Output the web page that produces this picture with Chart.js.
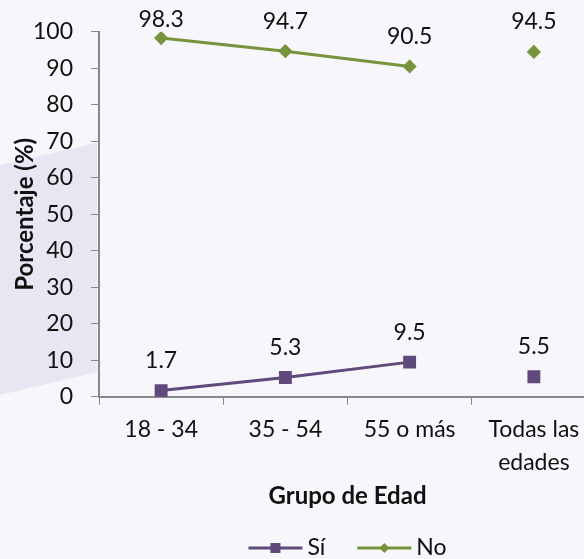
<!DOCTYPE html>
<html>
<head>
<meta charset="utf-8">
<script src="https://cdn.jsdelivr.net/npm/chart.js@4"></script>
<style>
  html, body { margin: 0; padding: 0; background: #f6f6fb; overflow: hidden; }
  #wrap { width: 606px; height: 559px; }
</style>
</head>
<body>
<div id="wrap"><canvas id="grafico"></canvas></div>
<script>
const categorias = ['18 - 34', '35 - 54', '55 o más', ['Todas las', 'edades']];
const valoresSi = [1.7, 5.3, 9.5, 5.5];
const valoresNo = [98.3, 94.7, 90.5, 94.5];
const ticksY = [0, 10, 20, 30, 40, 50, 60, 70, 80, 90, 100];

const corSi = '#604a7b';
const corNo = '#77933c';
const fonte = 'Lato, "Open Sans", sans-serif';

// fundo com a faixa clara a esquerda
const fundo = {
    id: 'fundo',
    beforeDraw(chart) {
        const ctx = chart.ctx;
        ctx.save();
        ctx.fillStyle = '#f6f6fb';
        ctx.fillRect(0, 0, chart.width, chart.height);
        ctx.fillStyle = '#e7e6f2';
        ctx.beginPath();
        ctx.moveTo(0, 165);
        ctx.lineTo(97, 143);
        ctx.lineTo(97, 372);
        ctx.lineTo(0, 395);
        ctx.closePath();
        ctx.fill();
        ctx.restore();
    }
};

// rotulos dos valores acima dos pontos
const rotulos = {
    id: 'rotulos',
    afterDatasetsDraw(chart) {
        const ctx = chart.ctx;
        ctx.save();
        ctx.font = '23px ' + fonte;
        ctx.fillStyle = '#111';
        ctx.textAlign = 'center';
        ctx.textBaseline = 'middle';
        chart.data.datasets.forEach((ds, i) => {
            chart.getDatasetMeta(i).data.forEach((p, j) => {
                let y = Math.max(p.y - 30, 20);
                ctx.fillText(ds.data[j].toFixed(1), p.x, y);
            });
        });
        ctx.restore();
    }
};

// legenda: linha com marcador no meio, centrada na area do grafico
const legenda = {
    id: 'legenda',
    afterDraw(chart) {
        const ctx = chart.ctx;
        const y = 548;
        const linha = 54, gapTexto = 5, gapItem = 32;
        ctx.save();
        ctx.font = '23px ' + fonte;
        ctx.textBaseline = 'middle';
        ctx.textAlign = 'left';
        const itens = chart.data.datasets;
        let total = 0;
        itens.forEach((ds, i) => {
            total += linha + gapTexto + ctx.measureText(ds.label).width;
            if (i < itens.length - 1) total += gapItem;
        });
        let x = (chart.chartArea.left + chart.chartArea.right) / 2 - total / 2;
        itens.forEach(ds => {
            ctx.strokeStyle = ds.borderColor;
            ctx.fillStyle = ds.borderColor;
            ctx.lineWidth = 3;
            ctx.beginPath();
            ctx.moveTo(x, y); ctx.lineTo(x + linha, y);
            ctx.stroke();
            const cx = x + linha / 2;
            ctx.beginPath();
            if (ds.pointStyle === 'rect') {
                ctx.rect(cx - 5, y - 5, 10, 10);
            } else {
                ctx.moveTo(cx, y - 5); ctx.lineTo(cx + 5, y); ctx.lineTo(cx, y + 5); ctx.lineTo(cx - 5, y);
                ctx.closePath();
            }
            ctx.fill();
            x += linha + gapTexto;
            ctx.fillStyle = '#111';
            ctx.fillText(ds.label, x, y);
            x += ctx.measureText(ds.label).width + gapItem;
        });
        ctx.restore();
    }
};

const semUltimo = ctx => ctx.p1DataIndex === 3 ? 'transparent' : undefined;

const dados = {
    labels: categorias,
    datasets: [{
        label: 'Sí',
        data: valoresSi,
        borderColor: corSi,
        backgroundColor: corSi,
        borderWidth: 3,
        pointStyle: 'rect',
        pointRadius: 7,
        pointHoverRadius: 7,
        segment: { borderColor: semUltimo }
    }, {
        label: 'No',
        data: valoresNo,
        borderColor: corNo,
        backgroundColor: corNo,
        borderWidth: 3,
        pointStyle: 'rectRot',
        pointRadius: 5,
        pointHoverRadius: 5,
        segment: { borderColor: semUltimo }
    }]
};

const config = {
    type: 'line',
    data: dados,
    options: {
        responsive: true,
        maintainAspectRatio: false,
        animation: false,
        layout: { padding: { top: 29, right: 5, left: 0, bottom: 31 } },
        scales: {
            x: {
                offset: true,
                grid: { drawOnChartArea: false, drawTicks: true, tickLength: 8, tickColor: '#888', offset: true },
                border: { color: '#888', width: 2 },
                ticks: { color: '#111', font: { family: fonte, size: 23, lineHeight: 1.4 }, padding: 9, maxRotation: 0 },
                title: { display: true, text: 'Grupo de Edad', color: '#111', font: { family: fonte, size: 24, weight: 'bold' }, padding: { top: -5, bottom: 17 } }
            },
            y: {
                min: 0,
                max: 100,
                afterBuildTicks: axis => { axis.ticks = ticksY.map(v => ({ value: v })); },
                afterFit: axis => { axis.width = 99; },
                grid: { drawOnChartArea: false, drawTicks: true, tickLength: 8, tickColor: '#888' },
                border: { color: '#888', width: 2 },
                ticks: { color: '#111', font: { family: fonte, size: 23 }, padding: 18 },
                title: { display: true, text: 'Porcentaje (%)', color: '#111', font: { family: fonte, size: 24, weight: 'bold' }, padding: { top: 11, bottom: 4 } }
            }
        },
        plugins: {
            tooltip: { enabled: false },
            legend: { display: false }
        }
    },
    plugins: [fundo, rotulos, legenda]
};

new Chart(document.getElementById('grafico'), config);
</script>
</body>
</html>
